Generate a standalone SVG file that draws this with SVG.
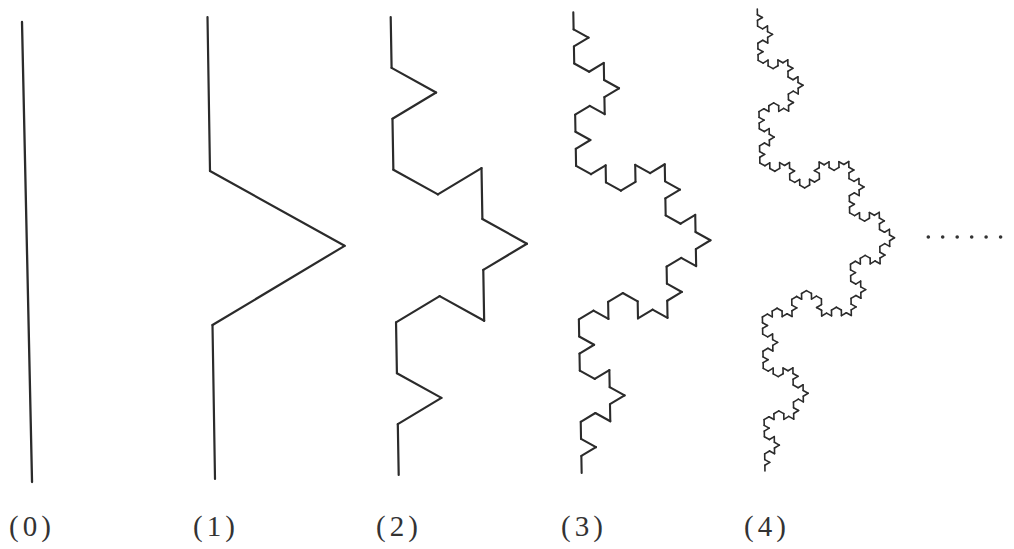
<svg xmlns="http://www.w3.org/2000/svg" xmlns:xlink="http://www.w3.org/1999/xlink" width="1014" height="549" viewBox="0 0 1014 549">
<style>
.curve{fill:none;stroke:#2b2b2b;stroke-linecap:round;stroke-linejoin:round}
.lbl{font-family:"Liberation Serif","DejaVu Serif",serif;font-size:29px;fill:#333;letter-spacing:4px}
.dot{fill:#333}
</style>
<defs>
<path id="k0" d="M0 0H1" vector-effect="non-scaling-stroke"/>
<g id="k1">
<use href="#k0" transform="scale(0.3333333)"/>
<use href="#k0" transform="translate(0.3333333 0) rotate(-60) scale(0.3333333)"/>
<use href="#k0" transform="translate(0.5 -0.2886751) rotate(60) scale(0.3333333)"/>
<use href="#k0" transform="translate(0.6666667 0) scale(0.3333333)"/>
</g>
<g id="k2">
<use href="#k1" transform="scale(0.3333333)"/>
<use href="#k1" transform="translate(0.3333333 0) rotate(-60) scale(0.3333333)"/>
<use href="#k1" transform="translate(0.5 -0.2886751) rotate(60) scale(0.3333333)"/>
<use href="#k1" transform="translate(0.6666667 0) scale(0.3333333)"/>
</g>
<g id="k3">
<use href="#k2" transform="scale(0.3333333)"/>
<use href="#k2" transform="translate(0.3333333 0) rotate(-60) scale(0.3333333)"/>
<use href="#k2" transform="translate(0.5 -0.2886751) rotate(60) scale(0.3333333)"/>
<use href="#k2" transform="translate(0.6666667 0) scale(0.3333333)"/>
</g>
<g id="k4">
<use href="#k3" transform="scale(0.3333333)"/>
<use href="#k3" transform="translate(0.3333333 0) rotate(-60) scale(0.3333333)"/>
<use href="#k3" transform="translate(0.5 -0.2886751) rotate(60) scale(0.3333333)"/>
<use href="#k3" transform="translate(0.6666667 0) scale(0.3333333)"/>
</g>
</defs>
<rect width="1014" height="549" fill="#ffffff"/>
<g id="curve0" class="curve" stroke-width="2.3">
<use href="#k0" transform="translate(22 22) rotate(88.75) scale(460.1)"/>
</g>
<g id="curve1" class="curve" stroke-width="2.2">
<use href="#k1" transform="translate(207.5 17) rotate(89.07) scale(462.06)"/>
</g>
<g id="curve2" class="curve" stroke-width="2.2">
<use href="#k2" transform="translate(390.7 17) rotate(89.0) scale(458.07)"/>
</g>
<g id="curve3" class="curve" stroke-width="2.1">
<use href="#k3" transform="translate(573.3 12.3) rotate(88.96) scale(460.78)"/>
</g>
<g id="curve4" class="curve" stroke-width="1.6">
<use href="#k4" transform="translate(757.3 9) rotate(89.05) scale(462.06)"/>
</g>
<g id="dots">
<circle class="dot" cx="928.3" cy="237" r="1.8"/>
<circle class="dot" cx="942.7" cy="237" r="1.8"/>
<circle class="dot" cx="957.2" cy="237" r="1.8"/>
<circle class="dot" cx="971.7" cy="237" r="1.8"/>
<circle class="dot" cx="986.1" cy="237" r="1.8"/>
<circle class="dot" cx="1000.6" cy="237" r="1.8"/>
</g>
<g id="labels">
<text class="lbl" x="9" y="536">(0)</text>
<text class="lbl" x="193" y="536">(1)</text>
<text class="lbl" x="376" y="536">(2)</text>
<text class="lbl" x="561" y="536">(3)</text>
<text class="lbl" x="744" y="536">(4)</text>
</g>
</svg>
